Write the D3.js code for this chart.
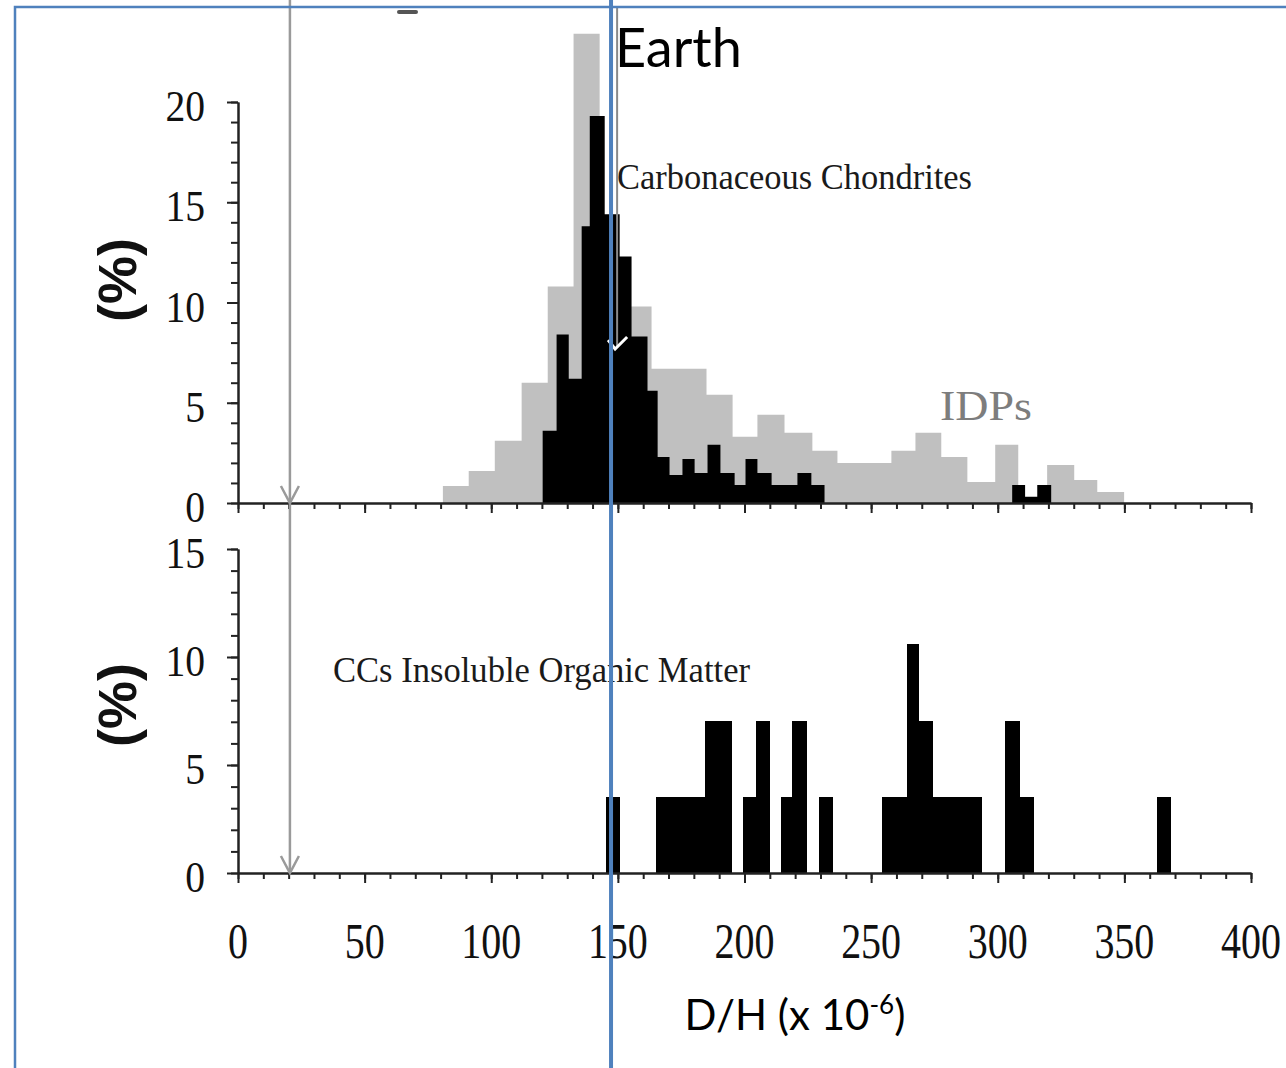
<!DOCTYPE html>
<html>
<head>
<meta charset="utf-8">
<script src="https://cdn.jsdelivr.net/npm/d3@7"></script>
<style>
  body { margin: 0; background: #fff; }
  svg { display: block; }
</style>
</head>
<body>
<svg id="chart"></svg>
<script>
// Constants
const width = 1286;
const height = 1068;

// IDPs histogram (grey): bin edges in D/H (x 10^-6) and percentages
const idpEdges = [80.9, 91.1, 101.4, 112.0, 122.3, 132.5, 142.8, 153.1, 163.3, 173.6, 185.0, 195.3, 205.1,
  215.8, 226.8, 236.7, 247.3, 258.0, 267.5, 277.7, 288.0, 299.0, 308.1, 319.5, 330.2, 339.3, 349.9];
const idpPct = [0.85, 1.6, 3.1, 6.0, 10.8, 23.4, 11.0, 9.8, 6.7, 6.7, 5.4, 3.3, 4.4,
  3.5, 2.6, 2.0, 2.0, 2.6, 3.5, 2.3, 1.05, 2.9, 0.35, 1.9, 1.15, 0.55];

// Carbonaceous chondrites histogram (black)
const ccEdges = [120.3, 125.8, 130.6, 135.7, 138.9, 144.8, 150.7, 155.4, 161.7, 165.7, 170.4, 175.5, 180.3,
  185.4, 190.5, 196.1, 200.4, 205.1, 210.7, 215.8, 220.9, 226.4, 231.6, 305.7, 310.8, 315.6, 321.1];
const ccPct = [3.6, 8.4, 6.2, 13.8, 19.3, 14.4, 12.3, 8.3, 5.6, 2.3, 1.4, 2.2, 1.5,
  2.9, 1.5, 0.9, 2.2, 1.5, 0.9, 0.9, 1.5, 0.9, 0, 0.9, 0.3, 0.9];

// CCs insoluble organic matter (bottom panel): bar left / right edges and percentages
const iomLo = [145.3, 165.1, 184.4, 199.4, 204.6, 214.5, 218.8, 229.5, 254.3, 264.2, 269.0, 274.5, 302.9, 308.8, 363.0];
const iomHi = [150.9, 184.4, 195.1, 204.6, 210.1, 218.8, 224.7, 235.0, 264.2, 269.0, 274.5, 293.8, 308.8, 314.4, 368.5];
const iomPct = [3.5, 3.5, 7.05, 3.5, 7.05, 3.5, 7.05, 3.5, 3.5, 10.6, 7.05, 3.5, 7.05, 3.5, 3.5];

// Reference values
const protosolarDH = 20.5;
const ccMeanDH = 149.7;
const earthDH = 147.3;

// Tick labels
const xTickLabels = [0, 50, 100, 150, 200, 250, 300, 350, 400];
const yTopTickLabels = [0, 5, 10, 15, 20];
const yBotTickLabels = [0, 5, 10, 15];

const serif = "'Liberation Serif', 'DejaVu Serif', serif";
const sans = "Lato, 'Open Sans', sans-serif";
const axisColor = "#222";

const svg = d3.select("#chart")
  .attr("width", width)
  .attr("height", height)
  .attr("viewBox", [0, 0, width, height]);

svg.append("rect").attr("width", width).attr("height", height).attr("fill", "#fff");

// Scales
const x = d3.scaleLinear().domain([0, 400]).range([238, 1251]);
const yTop = d3.scaleLinear().domain([0, 20]).range([503, 102]);
const yBot = d3.scaleLinear().domain([0, 15]).range([873, 549]);

/**
 * Builds a filled step path for a histogram given bin edges
 */
function stepArea(edges, pct, y) {
  const pts = pct.map((p, i) => [edges[i], p]);
  pts.push([edges[edges.length - 1], pct[pct.length - 1]]);
  return d3.area()
    .x(d => x(d[0]))
    .y0(y(0))
    .y1(d => y(d[1]))
    .curve(d3.curveStepAfter)(pts);
}

// Histograms
svg.append("path").attr("d", stepArea(idpEdges, idpPct, yTop)).attr("fill", "#c0c0c0");
svg.append("path").attr("d", stepArea(ccEdges, ccPct, yTop)).attr("fill", "#000");

svg.append("g")
  .selectAll("rect")
  .data(iomPct)
  .join("rect")
    .attr("x", (d, i) => x(iomLo[i]))
    .attr("width", (d, i) => x(iomHi[i]) - x(iomLo[i]))
    .attr("y", d => yBot(d))
    .attr("height", d => yBot(0) - yBot(d))
    .attr("fill", "#000")
    .attr("shape-rendering", "crispEdges");

/**
 * Draws an axis with minor and major ticks
 */
function drawAxis(axisFn, scale, pos, minor, major, minorLen, majorLen) {
  [[minor, minorLen], [major, majorLen]].forEach(([vals, len]) => {
    const g = svg.append("g")
      .attr("transform", pos)
      .call(axisFn(scale).tickValues(vals).tickSize(len).tickSizeOuter(0).tickFormat(""));
    g.selectAll("path, line").attr("stroke", axisColor).attr("stroke-width", 2);
  });
}

drawAxis(d3.axisBottom, x, `translate(0,${yTop(0)})`, d3.range(0, 401, 10), d3.range(0, 401, 50), 6, 10);
drawAxis(d3.axisBottom, x, `translate(0,${yBot(0)})`, d3.range(0, 401, 10), d3.range(0, 401, 50), 6, 10);
drawAxis(d3.axisLeft, yTop, `translate(${x(0)},0)`, d3.range(0, 21, 1), yTopTickLabels, 7, 11);
drawAxis(d3.axisLeft, yBot, `translate(${x(0)},0)`, d3.range(0, 16, 1), yBotTickLabels, 7, 11);

// Tick labels (condensed serif, as in the scanned figure)
svg.append("g")
  .selectAll("text")
  .data(xTickLabels)
  .join("text")
    .attr("transform", d => `translate(${x(d)},958) scale(0.8,1)`)
    .attr("text-anchor", "middle")
    .attr("font-family", serif)
    .attr("font-size", 50)
    .attr("fill", "#111")
    .text(d => d);

[[yTop, yTopTickLabels], [yBot, yBotTickLabels]].forEach(([y, vals]) => {
  svg.append("g")
    .selectAll("text")
    .data(vals)
    .join("text")
      .attr("transform", d => `translate(205,${y(d) + 19}) scale(0.9,1)`)
      .attr("text-anchor", "end")
      .attr("font-family", serif)
      .attr("font-size", 44)
      .attr("fill", "#111")
      .text(d => d);
});

// Y axis titles
[[yTop, 280], [yBot, 705]].forEach(([y, cy]) => {
  svg.append("text")
    .attr("transform", `translate(136,${cy}) rotate(-90)`)
    .attr("text-anchor", "middle")
    .attr("font-family", "'Liberation Sans', Arial, sans-serif")
    .attr("font-weight", "bold")
    .attr("font-size", 54)
    .attr("fill", "#111")
    .text("(%)");
});

// Series labels
svg.append("text")
  .attr("x", 617).attr("y", 189)
  .attr("font-family", serif).attr("font-size", 36).attr("fill", "#1a1a1a")
  .attr("textLength", 355).attr("lengthAdjust", "spacingAndGlyphs")
  .text("Carbonaceous Chondrites");

svg.append("text")
  .attr("x", 940).attr("y", 420)
  .attr("font-family", serif).attr("font-size", 42).attr("fill", "#7d7d7d")
  .attr("textLength", 92).attr("lengthAdjust", "spacingAndGlyphs")
  .text("IDPs");

svg.append("text")
  .attr("x", 333).attr("y", 682)
  .attr("font-family", serif).attr("font-size", 36).attr("fill", "#1a1a1a")
  .attr("textLength", 417).attr("lengthAdjust", "spacingAndGlyphs")
  .text("CCs Insoluble Organic Matter");

// Protosolar arrow (grey)
const px = x(protosolarDH);
svg.append("line")
  .attr("x1", px).attr("x2", px).attr("y1", 0).attr("y2", yBot(0))
  .attr("stroke", "#9a9a9a").attr("stroke-width", 2.5);
[yTop(0), yBot(0)].forEach(tip => {
  svg.append("polyline")
    .attr("points", `${px - 9},${tip - 17} ${px},${tip} ${px + 9},${tip - 17}`)
    .attr("fill", "none").attr("stroke", "#9a9a9a").attr("stroke-width", 2.5);
});

// CC mean arrow
const mx = x(ccMeanDH);
svg.append("line")
  .attr("x1", mx).attr("x2", mx).attr("y1", 8).attr("y2", 348)
  .attr("stroke", "#8a8a8a").attr("stroke-width", 2);
svg.append("polyline")
  .attr("points", `${mx - 9},${340} ${mx - 2},${349} ${mx + 10},${337}`)
  .attr("fill", "none").attr("stroke", "#fff").attr("stroke-width", 3);

// Small mark at top
svg.append("line")
  .attr("x1", 399).attr("x2", 416).attr("y1", 12).attr("y2", 12)
  .attr("stroke", "#555").attr("stroke-width", 4).attr("stroke-linecap", "round");

// Earth line
svg.append("line")
  .attr("x1", x(earthDH)).attr("x2", x(earthDH)).attr("y1", 0).attr("y2", height)
  .attr("stroke", "#4f81bd").attr("stroke-width", 4);

svg.append("text")
  .attr("x", 615).attr("y", 67)
  .attr("font-family", sans).attr("font-size", 54).attr("fill", "#000")
  .text("Earth");

// X axis title
const xt = svg.append("text")
  .attr("x", 795).attr("y", 1030)
  .attr("text-anchor", "middle")
  .attr("font-family", sans).attr("font-size", 42).attr("fill", "#000");
xt.append("tspan").text("D/H (x 10");
xt.append("tspan").attr("dy", -16).attr("font-size", 26).text("-6");
xt.append("tspan").attr("dy", 16).text(")");

// Blue frame
svg.append("path")
  .attr("d", "M15,1068 L15,7 L1286,7")
  .attr("fill", "none").attr("stroke", "#4f81bd").attr("stroke-width", 2.5);
</script>
</body>
</html>
